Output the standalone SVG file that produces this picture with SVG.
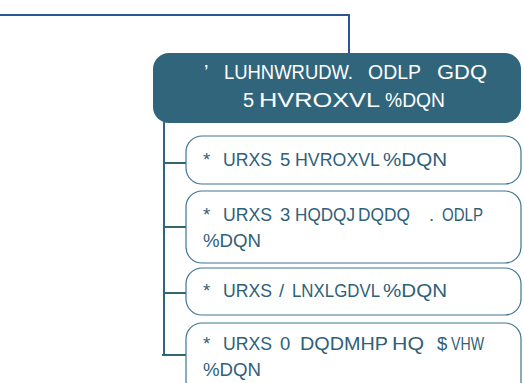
<svg xmlns="http://www.w3.org/2000/svg" width="524" height="383" viewBox="0 0 524 383">
<style>
.main{fill:#31657c;}
.child{fill:#ffffff;stroke:#3f7591;stroke-width:1.2;}
.conn{fill:none;stroke:#31657c;stroke-width:2;}
.top{fill:none;stroke:#2d5596;stroke-width:2;}
.mt{font-family:"Liberation Sans",Arial,sans-serif;font-size:20px;fill:#ffffff;}
.ct{font-family:"Liberation Sans",Arial,sans-serif;font-size:18.5px;fill:#2f6079;}
</style>
<rect width="524" height="383" fill="#ffffff"/>
<g id="connectors">
<polyline class="top" points="0,15 349,15 349,55"/>
<line class="conn" x1="164" y1="122" x2="164" y2="356"/>
<line class="conn" x1="164" y1="163" x2="186" y2="163"/>
<line class="conn" x1="164" y1="227" x2="186" y2="227"/>
<line class="conn" x1="164" y1="293" x2="186" y2="293"/>
<line class="conn" x1="162" y1="355" x2="186" y2="355"/>
</g>
<g id="main">
<rect class="main" x="153" y="53" width="368" height="70" rx="16"/>
<text class="mt"><tspan x="204" y="79">’</tspan><tspan x="224" y="79" textLength="129" lengthAdjust="spacingAndGlyphs">LUHNWRUDW.</tspan><tspan x="368" y="79" textLength="53" lengthAdjust="spacingAndGlyphs">ODLP</tspan><tspan x="437" y="79" textLength="50" lengthAdjust="spacingAndGlyphs">GDQ</tspan></text>
<text class="mt"><tspan x="243" y="107">5</tspan><tspan x="259" y="107" textLength="121" lengthAdjust="spacingAndGlyphs">HVROXVL</tspan><tspan x="385" y="107" textLength="60" lengthAdjust="spacingAndGlyphs">%DQN</tspan></text>
</g>
<g id="child1">
<rect class="child" x="186" y="136" width="335" height="48" rx="16"/>
<text class="ct"><tspan x="203" y="166">*</tspan><tspan x="223" y="166" textLength="49" lengthAdjust="spacingAndGlyphs">URXS</tspan><tspan x="280" y="166">5</tspan><tspan x="295" y="166" textLength="85" lengthAdjust="spacingAndGlyphs">HVROXVL</tspan><tspan x="383" y="166" textLength="64" lengthAdjust="spacingAndGlyphs">%DQN</tspan></text>
</g>
<g id="child2">
<rect class="child" x="186" y="191" width="335" height="72" rx="16"/>
<text class="ct"><tspan x="203" y="221">*</tspan><tspan x="223" y="221" textLength="49" lengthAdjust="spacingAndGlyphs">URXS</tspan><tspan x="280" y="221">3</tspan><tspan x="295" y="221" textLength="60" lengthAdjust="spacingAndGlyphs">HQDQJ</tspan><tspan x="358" y="221" textLength="52" lengthAdjust="spacingAndGlyphs">DQDQ</tspan><tspan x="429" y="221">.</tspan><tspan x="442" y="221" textLength="41" lengthAdjust="spacingAndGlyphs">ODLP</tspan><tspan x="203" y="247" textLength="58" lengthAdjust="spacingAndGlyphs">%DQN</tspan></text>
</g>
<g id="child3">
<rect class="child" x="186" y="268" width="335" height="47" rx="16"/>
<text class="ct"><tspan x="203" y="297">*</tspan><tspan x="223" y="297" textLength="49" lengthAdjust="spacingAndGlyphs">URXS</tspan><tspan x="279" y="297">/</tspan><tspan x="292" y="297" textLength="88" lengthAdjust="spacingAndGlyphs">LNXLGDVL</tspan><tspan x="383" y="297" textLength="64" lengthAdjust="spacingAndGlyphs">%DQN</tspan></text>
</g>
<g id="child4">
<rect class="child" x="186" y="323" width="335" height="80" rx="16"/>
<text class="ct"><tspan x="203" y="350">*</tspan><tspan x="223" y="350" textLength="49" lengthAdjust="spacingAndGlyphs">URXS</tspan><tspan x="280" y="350">0</tspan><tspan x="300" y="350" textLength="88" lengthAdjust="spacingAndGlyphs">DQDMHP</tspan><tspan x="392" y="350" textLength="32" lengthAdjust="spacingAndGlyphs">HQ</tspan><tspan x="437" y="350">$</tspan><tspan x="451" y="350" textLength="33" lengthAdjust="spacingAndGlyphs">VHW</tspan><tspan x="203" y="376" textLength="58" lengthAdjust="spacingAndGlyphs">%DQN</tspan></text>
</g>
</svg>
